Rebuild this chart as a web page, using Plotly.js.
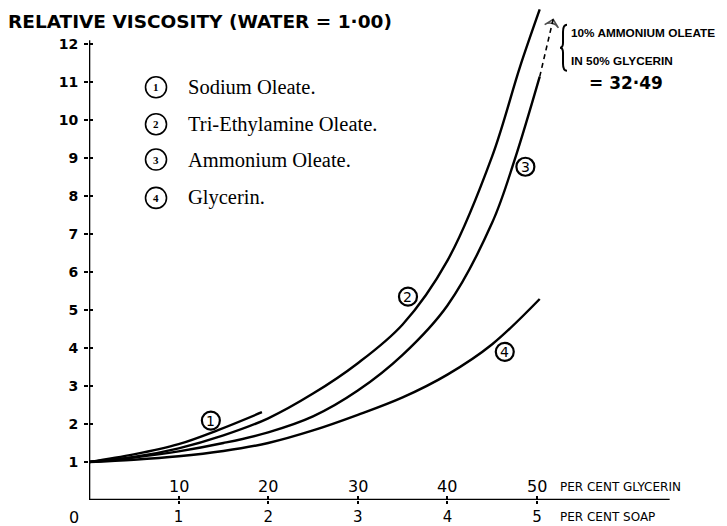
<!DOCTYPE html>
<html>
<head>
<meta charset="utf-8">
<script src="https://cdn.plot.ly/plotly-3.0.1.min.js"></script>
<style>html,body{margin:0;padding:0;background:#fff;}#chart{width:727px;height:526px;}</style>
</head>
<body>
<div id="chart"></div>
<script>
// ---- data ----
const sodiumX = [0, 0.5, 1.0, 1.44, 1.93];
const sodiumY = [1.0, 1.2, 1.47, 1.84, 2.31];

const triX = [0, 0.5, 1.0, 1.5, 2.0, 2.5, 3.0, 3.5, 4.0, 4.5, 4.81, 5.03];
const triY = [1.0, 1.13, 1.36, 1.7, 2.15, 2.8, 3.6, 4.62, 6.3, 9.05, 11.4, 12.91];

const ammX = [0, 0.5, 1.0, 1.5, 2.0, 2.5, 3.0, 3.5, 4.0, 4.5, 4.75, 5.03];
const ammY = [1.0, 1.12, 1.28, 1.5, 1.78, 2.2, 2.88, 3.82, 5.12, 7.3, 8.95, 11.14];

const glyX = [0, 0.5, 1.0, 1.5, 2.0, 2.5, 3.0, 3.5, 4.0, 4.5, 5.03];
const glyY = [1.0, 1.06, 1.15, 1.29, 1.5, 1.83, 2.24, 2.7, 3.3, 4.1, 5.29];

// dashed extrapolation to 10% ammonium oleate in 50% glycerin
const extX = [5.03, 5.18];
const extY = [11.14, 12.65];

const yTicks = [1,2,3,4,5,6,7,8,9,10,11,12];
const soapTicks = [1,2,3,4,5];
const glycerinTicks = [10,20,30,40,50];

const seriesNames = ["Sodium Oleate.", "Tri-Ethylamine Oleate.", "Ammonium Oleate.", "Glycerin."];
const seriesNums = ["1","2","3","4"];
const noteLines = ["10% AMMONIUM OLEATE", "IN 50% GLYCERIN"];
const noteValue = "= 32·49";

// ---- layout helpers (styles/positions) ----
const curveLabelPos = [[1.36,2.09],[3.56,5.35],[4.87,8.77],[4.64,3.90]];
const legendRowsY = [10.86, 9.89, 8.96, 7.95];
const legendCircleX = 0.748;
const legendTextX = 1.08;

const line = {color:'#000', width:2.4, shape:'spline', smoothing:1};

const traces = [
  {x:sodiumX, y:sodiumY, mode:'lines', line:line},
  {x:triX, y:triY, mode:'lines', line:line},
  {x:ammX, y:ammY, mode:'lines', line:line},
  {x:glyX, y:glyY, mode:'lines', line:line},
  {x:extX, y:extY, mode:'lines+markers', line:{color:'#000', width:1.6, dash:'5px,4px'},
   marker:{size:[0,10], symbol:'arrow-wide-open', angleref:'previous', color:'#000', line:{color:'#000', width:1.5}}},
];
traces.forEach(t => { t.showlegend = false; t.hoverinfo = 'skip'; });

const shapes = [
  {type:'line', xref:'x', yref:'y', x0:0, x1:0, y0:-0.03, y1:12.1, line:{color:'#000', width:2.6}},
  {type:'line', xref:'x', yref:'y', x0:0, x1:6.48, y0:0, y1:0, line:{color:'#000', width:2.6}},
  // braces around the note
  {type:'path', xref:'x', yref:'y', xsizemode:'pixel', ysizemode:'pixel', xanchor:5.29, yanchor:11.9,
   path:'M 4,23 Q 0,23 0,16 L 0,5 Q 0,0 -3,0 Q 0,0 0,-5 L 0,-16 Q 0,-23 4,-23', line:{color:'#000', width:2}},
  {type:'path', xref:'x', yref:'y', xsizemode:'pixel', ysizemode:'pixel', xanchor:7.04, yanchor:11.92,
   path:'M -4,22 Q 0,22 0,15 L 0,5 Q 0,0 3,0 Q 0,0 0,-5 L 0,-15 Q 0,-22 -4,-22', line:{color:'#000', width:2}},
];
const annotations = [];

// curve labels
curveLabelPos.forEach((p,i) => {
  shapes.push({type:'circle', xref:'x', yref:'y', xsizemode:'pixel', ysizemode:'pixel',
    xanchor:p[0], yanchor:p[1], x0:-9, x1:9, y0:-9, y1:9, line:{color:'#000', width:2.2}});
  annotations.push({x:p[0], y:p[1], xref:'x', yref:'y', text:seriesNums[i], showarrow:false,
    font:{family:'DejaVu Sans', size:14, color:'#000'}});
});

// legend
legendRowsY.forEach((yy,i) => {
  shapes.push({type:'circle', xref:'x', yref:'y', xsizemode:'pixel', ysizemode:'pixel',
    xanchor:legendCircleX, yanchor:yy, x0:-10.5, x1:10.5, y0:-10.5, y1:10.5, line:{color:'#000', width:1.6}});
  annotations.push({x:legendCircleX, y:yy, xref:'x', yref:'y', text:seriesNums[i], showarrow:false,
    font:{family:'Liberation Serif', size:11, color:'#000', weight:'bold'}});
  annotations.push({x:legendTextX, y:yy, xref:'x', yref:'y', xanchor:'left', text:seriesNames[i], showarrow:false,
    font:{family:'Liberation Serif', size:20.5, color:'#000'}});
});

// glycerin scale labels
glycerinTicks.forEach(g => {
  annotations.push({x:g/10, y:0, xref:'x', yref:'y', yanchor:'bottom', yshift:2, text:String(g), showarrow:false,
    font:{family:'DejaVu Sans', size:16, color:'#000'}});
});
annotations.push({x:5.23, y:0, xref:'x', yref:'y', xanchor:'left', yanchor:'bottom', yshift:4,
  text:'PER CENT GLYCERIN', showarrow:false, font:{family:'DejaVu Sans', size:12, color:'#000'}});
annotations.push({x:5.23, y:0, xref:'x', yref:'y', xanchor:'left', yanchor:'top', yshift:-8,
  text:'PER CENT SOAP', showarrow:false, font:{family:'DejaVu Sans', size:12, color:'#000'}});
annotations.push({x:0, y:0, xref:'x', yref:'y', yanchor:'top', xshift:-15, yshift:-6, text:'0', showarrow:false,
  font:{family:'DejaVu Sans', size:16, color:'#000'}});

// title
annotations.push({x:-89/581+0.011, y:1, xref:'paper', yref:'paper', xanchor:'left', yanchor:'top', yshift:-9,
  text:'RELATIVE VISCOSITY (WATER = 1·00)', showarrow:false,
  font:{family:'DejaVu Sans', size:18.5, color:'#000', weight:'bold'}});

// top-right note
annotations.push({x:5.36, y:12.29, xref:'x', yref:'y', xanchor:'left', text:noteLines[0], showarrow:false,
  font:{family:'Liberation Sans', size:11.8, color:'#000', weight:'bold'}});
annotations.push({x:5.36, y:11.55, xref:'x', yref:'y', xanchor:'left', text:noteLines[1], showarrow:false,
  font:{family:'Liberation Sans', size:11.8, color:'#000', weight:'bold'}});
annotations.push({x:5.99, y:10.97, xref:'x', yref:'y', xanchor:'center', text:noteValue, showarrow:false,
  font:{family:'DejaVu Sans', size:17, color:'#000', weight:'bold'}});

const layout = {
  width:727, height:526,
  margin:{l:89, r:57, t:0, b:26},
  paper_bgcolor:'#fff', plot_bgcolor:'#fff',
  xaxis:{range:[0, 6.484], showgrid:false, zeroline:false, showline:false,
    tickvals:soapTicks, ticktext:soapTicks.map(String), ticks:'outside', ticklen:3, tickwidth:2, tickcolor:'#000',
    tickfont:{family:'DejaVu Sans', size:15, color:'#000'}, ticklabelstandoff:0},
  xaxis2:{range:[0, 6.484], overlaying:'x', anchor:'y', side:'bottom', showgrid:false, zeroline:false, showline:false,
    tickvals:soapTicks, ticks:'inside', ticklen:4, tickwidth:2, tickcolor:'#000', showticklabels:false},
  yaxis:{range:[0, 500/38], showgrid:false, zeroline:false, showline:false,
    tickvals:yTicks, ticktext:yTicks.map(String), ticks:'outside', ticklen:4, tickwidth:2, tickcolor:'#000',
    tickfont:{family:'DejaVu Sans', size:14, color:'#000', weight:'bold'}, ticklabelstandoff:3},
  yaxis2:{range:[0, 500/38], overlaying:'y', anchor:'x', side:'left', showgrid:false, zeroline:false, showline:false,
    tickvals:yTicks, ticks:'inside', ticklen:4, tickwidth:2, tickcolor:'#000', showticklabels:false},
  shapes:shapes, annotations:annotations, hovermode:false, showlegend:false
};
traces.push({x:[0], y:[0], xaxis:'x2', yaxis:'y2', mode:'none', showlegend:false, hoverinfo:'skip'});

Plotly.newPlot('chart', traces, layout, {displayModeBar:false, staticPlot:true});
</script>
</body>
</html>
